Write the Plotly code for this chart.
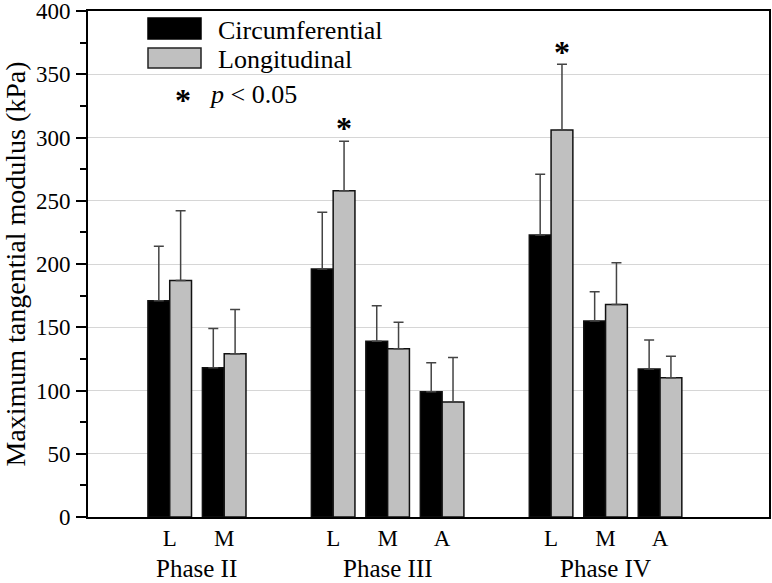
import plotly.graph_objects as go

# ---- data ----
positions = [0, 1, 3, 4, 5, 7, 8, 9]
site_labels = ["L", "M", "L", "M", "A", "L", "M", "A"]
phase_names = ["Phase II", "Phase III", "Phase IV"]
phase_centers = [0.5, 4, 8]
circ_mean = [171, 118, 196, 139, 99, 223, 155, 117]
circ_err = [43, 31, 45, 28, 23, 48, 23, 23]
long_mean = [187, 129, 258, 133, 91, 306, 168, 110]
long_err = [55, 35, 39, 21, 35, 52, 33, 17]
sig_positions = [3, 7]          # groups with p < 0.05 (longitudinal bar)
sig_heights = [311, 371]

FONT = "Liberation Serif"
GRAY = "#c0c0c0"

W, H = 772, 583
ml, mr, mt, mb = 88, 3, 11, 66
pw, ph = W - ml - mr, H - mt - mb


def px_x(x):
    return (x - ml) / pw


def px_y(y):
    return (H - mb - y) / ph


fig = go.Figure()
fig.add_trace(go.Bar(
    x=positions, y=circ_mean, name="Circumferential",
    marker=dict(color="black", line=dict(color="#111", width=1.5)),
    error_y=dict(type="data", array=circ_err, arrayminus=[0] * len(circ_err),
                 symmetric=False, color="#444", thickness=1.5, width=5),
))
fig.add_trace(go.Bar(
    x=positions, y=long_mean, name="Longitudinal",
    marker=dict(color=GRAY, line=dict(color="#111", width=1.5)),
    error_y=dict(type="data", array=long_err, arrayminus=[0] * len(long_err),
                 symmetric=False, color="#444", thickness=1.5, width=5),
))

annotations = []
# significance stars above longitudinal bars
for xp, yh in zip(sig_positions, sig_heights):
    annotations.append(dict(x=xp + 0.2, y=yh, xref="x", yref="y", text="<b>*</b>",
                            showarrow=False, yanchor="middle", yshift=-4,
                            font=dict(family=FONT, size=32, color="black")))
# phase labels
for name, c in zip(phase_names, phase_centers):
    annotations.append(dict(x=c, y=-mb / ph, xref="x", yref="paper", text=name,
                            showarrow=False, yanchor="bottom", yshift=-1,
                            font=dict(family=FONT, size=25, color="black")))

# manual legend
shapes = [
    dict(type="rect", xref="paper", yref="paper",
         x0=px_x(148), x1=px_x(201), y0=px_y(39), y1=px_y(18),
         fillcolor="black", line=dict(color="black", width=1.5)),
    dict(type="rect", xref="paper", yref="paper",
         x0=px_x(148), x1=px_x(201), y0=px_y(68), y1=px_y(48),
         fillcolor=GRAY, line=dict(color="#222", width=1.5)),
]
annotations += [
    dict(x=px_x(216), y=px_y(31), xref="paper", yref="paper", text="Circumferential",
         xanchor="left", yanchor="middle", showarrow=False,
         font=dict(family=FONT, size=26, color="black")),
    dict(x=px_x(216), y=px_y(59), xref="paper", yref="paper", text="Longitudinal",
         xanchor="left", yanchor="middle", showarrow=False,
         font=dict(family=FONT, size=26, color="black")),
    dict(x=px_x(183), y=px_y(95), xref="paper", yref="paper", text="<b>*</b>",
         xanchor="center", yanchor="middle", showarrow=False, yshift=-5,
         font=dict(family=FONT, size=32, color="black")),
    dict(x=px_x(207), y=px_y(94), xref="paper", yref="paper",
         text="<i>p</i> &lt; 0.05",
         xanchor="left", yanchor="middle", showarrow=False,
         font=dict(family=FONT, size=26, color="black")),
]

fig.update_layout(
    width=W, height=H,
    margin=dict(l=ml, r=mr, t=mt, b=mb, pad=0, autoexpand=False),
    paper_bgcolor="white", plot_bgcolor="white",
    barmode="group", bargap=0.2, bargroupgap=0,
    showlegend=False,
    font=dict(family=FONT, size=22, color="black"),
    annotations=annotations, shapes=shapes,
    xaxis=dict(range=[-1.5, 11], tickmode="array", tickvals=positions, ticktext=site_labels,
               ticks="", showgrid=False, zeroline=False, showline=True, linecolor="black",
               linewidth=2, mirror=True, automargin=False,
               tickfont=dict(family=FONT, size=23), ticklabelstandoff=-1),
    yaxis=dict(range=[0, 400], dtick=50, ticks="outside", ticklen=10, tickwidth=1.5,
               tickcolor="black", showgrid=True, gridcolor="#d6d6d6", gridwidth=1.2,
               zeroline=False, showline=True, linecolor="black", linewidth=2, mirror=True,
               automargin=False, ticklabeloverflow="allow", ticklabelstandoff=1,
               minor=dict(dtick=25, ticks="outside", ticklen=6, tickwidth=1.5,
                          tickcolor="black", showgrid=False),
               tickfont=dict(family=FONT, size=23),
               title=dict(text="Maximum tangential modulus (kPa)", standoff=8,
                          font=dict(family=FONT, size=28))),
)

fig.write_html(
    "out.html",
    config={"displayModeBar": False},
    post_script="document.body.style.margin='0';document.body.style.overflow='hidden';",
)
